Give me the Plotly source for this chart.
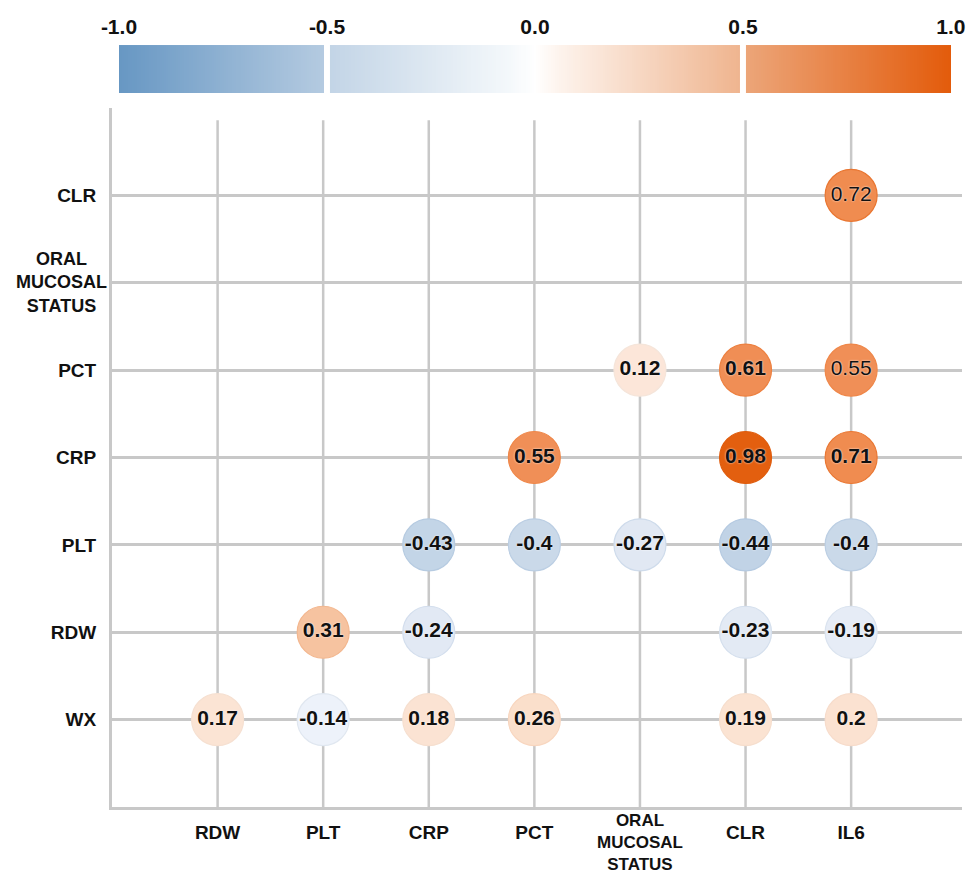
import numpy as np
import plotly.graph_objects as go

# Variables on each axis (columns left to right, rows bottom to top)
col_labels = ["RDW", "PLT", "CRP", "PCT", "ORAL<br>MUCOSAL<br>STATUS", "CLR", "IL6"]
row_labels = ["WX", "RDW", "PLT", "CRP", "PCT", "ORAL<br>MUCOSAL<br>STATUS", "CLR"]

# Correlation coefficients, one list per row (None = not shown)
corr_wx = [0.17, -0.14, 0.18, 0.26, None, 0.19, 0.2]
corr_rdw = [None, 0.31, -0.24, None, None, -0.23, -0.19]
corr_plt = [None, None, -0.43, -0.4, -0.27, -0.44, -0.4]
corr_crp = [None, None, None, 0.55, None, 0.98, 0.71]
corr_pct = [None, None, None, None, 0.12, 0.61, 0.55]
corr_oral = [None, None, None, None, None, None, None]
corr_clr = [None, None, None, None, None, None, 0.72]

corr_rows = [corr_wx, corr_rdw, corr_plt, corr_crp, corr_pct, corr_oral, corr_clr]

# Colour-key tick labels
key_ticks = [-1.0, -0.5, 0.0, 0.5, 1.0]
key_ticktext = ["-1.0", "-0.5", "0.0", "0.5", "1.0"]

FONT = "Liberation Sans, Arial, sans-serif"
GRID = "#c8c8c8"
INK = "#111111"

# cells whose value label is drawn in regular weight
plain_cells = {(6, 6), (4, 6)}

xs, ys, vals, texts, weights = [], [], [], [], []
for r, row in enumerate(corr_rows):
    for c, v in enumerate(row):
        if v is None:
            continue
        xs.append(c)
        ys.append(r)
        vals.append(v)
        texts.append(f"{v:g}")
        weights.append("normal" if (r, c) in plain_cells else "bold")

# bubble fill scale
fill_scale = [
    [0.0, "#6b9ac5"],
    [0.275, "#bfd2e5"],
    [0.35, "#dfe7f2"],
    [0.40, "#e4ebf5"],
    [0.43, "#edf2fa"],
    [0.5, "#ffffff"],
    [0.56, "#fce6d9"],
    [0.63, "#fadfcb"],
    [0.655, "#f6c3a0"],
    [0.775, "#f08f57"],
    [0.86, "#f08c50"],
    [0.99, "#e35f0f"],
    [1.0, "#e25c0c"],
]
# slightly stronger outline scale
edge_scale = [
    [0.0, "#5a8cbb"],
    [0.275, "#b3c9e0"],
    [0.40, "#d9e2ef"],
    [0.5, "#f2f2f2"],
    [0.63, "#f8d6bf"],
    [0.655, "#f3b78f"],
    [0.775, "#ef8749"],
    [1.0, "#de5a0a"],
]
# colour-key gradient (two segments each side)
key_scale = [
    [0.0, "#6797c3"],
    [0.249, "#b5cbe1"],
    [0.251, "#c2d4e6"],
    [0.47, "#f4f8fb"],
    [0.5, "#ffffff"],
    [0.53, "#fdf3ec"],
    [0.749, "#efb48e"],
    [0.751, "#eca67a"],
    [1.0, "#e35b0b"],
]

fig = go.Figure()

fig.add_trace(go.Scatter(
    x=xs, y=ys, mode="markers+text",
    text=texts, textposition="middle center",
    textfont=dict(family=FONT, size=21, color=INK, weight=weights,
                  shadow="0px 0px 2px #ffffff"),
    marker=dict(
        size=52, color=vals, colorscale=fill_scale, cmin=-1, cmax=1,
        showscale=False, opacity=1,
        line=dict(width=1.2, color=vals, colorscale=edge_scale, cmin=-1, cmax=1),
    ),
    hoverinfo="skip", showlegend=False, cliponaxis=False,
))

# colour key bar
key_x = np.linspace(-1, 1, 401)
fig.add_trace(go.Heatmap(
    x=key_x, y=[0], z=[key_x], xaxis="x2", yaxis="y2",
    colorscale=key_scale, zmin=-1, zmax=1, showscale=False, hoverinfo="skip",
))

shapes = []
# vertical grid lines for each column
for c in range(len(col_labels)):
    shapes.append(dict(type="line", xref="x", yref="y", x0=c, x1=c, y0=-1, y1=6.86,
                       line=dict(color=GRID, width=2.5), layer="below"))
# white breaks in the colour key
for b in (-0.5, 0.5):
    shapes.append(dict(type="line", xref="x2", yref="y2 domain", x0=b, x1=b, y0=-0.05, y1=1.05,
                       line=dict(color="#ffffff", width=6), layer="above"))

# multi-line category names are drawn as centred annotations
annotations = []
x_ticktext = []
for i, lab in enumerate(col_labels):
    if "<br>" in lab:
        x_ticktext.append("")
        annotations.append(dict(text=lab, xref="x", x=i, yref="paper", y=0, yanchor="top",
                                yshift=-3, xanchor="center", align="center", borderpad=0,
                                showarrow=False,
                                font=dict(family=FONT, size=17, weight="bold", color=INK)))
    else:
        x_ticktext.append(lab)
y_ticktext = []
for i, lab in enumerate(row_labels):
    if "<br>" in lab:
        y_ticktext.append("")
        annotations.append(dict(text=lab, yref="y", y=i, xref="paper", x=0, xanchor="right",
                                xshift=-3, yanchor="middle", align="center",
                                showarrow=False,
                                font=dict(family=FONT, size=18, weight="bold", color=INK)))
    else:
        y_ticktext.append(lab)

fig.update_layout(
    width=967, height=874,
    margin=dict(l=112, r=5, t=20, b=67, autoexpand=False),
    paper_bgcolor="white", plot_bgcolor="white",
    font=dict(family=FONT, color=INK),
    shapes=shapes,
    annotations=annotations,
    xaxis=dict(
        domain=[0, 1], range=[-1, 7.05], automargin=False,
        tickmode="array", tickvals=list(range(len(col_labels))), ticktext=x_ticktext,
        tickfont=dict(family=FONT, size=19, weight="bold", color=INK),
        ticks="outside", ticklen=6, tickcolor="rgba(0,0,0,0)",
        showgrid=False, zeroline=False,
        showline=True, linecolor=GRID, linewidth=3,
        fixedrange=True,
    ),
    yaxis=dict(
        domain=[0, 0.8882], range=[-1, 7], automargin=False,
        tickmode="array", tickvals=list(range(len(row_labels))), ticktext=y_ticktext,
        tickfont=dict(family=FONT, size=19, weight="bold", color=INK),
        ticks="outside", ticklen=9, tickcolor="rgba(0,0,0,0)",
        showgrid=True, gridcolor=GRID, gridwidth=2.5,
        zeroline=False,
        showline=True, linecolor=GRID, linewidth=3,
        fixedrange=True,
    ),
    xaxis2=dict(
        domain=[0.0082, 0.987], anchor="y2", range=[-1, 1], side="top", automargin=False,
        tickmode="array", tickvals=key_ticks, ticktext=key_ticktext,
        tickfont=dict(family=FONT, size=21, weight="bold", color=INK),
        ticks="outside", ticklen=2, tickcolor="rgba(0,0,0,0)",
        showgrid=False, zeroline=False, showline=False, fixedrange=True,
    ),
    yaxis2=dict(
        domain=[0.9073, 0.9682], anchor="x2", range=[-0.5, 0.5],
        visible=False, fixedrange=True,
    ),
)

fig.write_html("out.html")
